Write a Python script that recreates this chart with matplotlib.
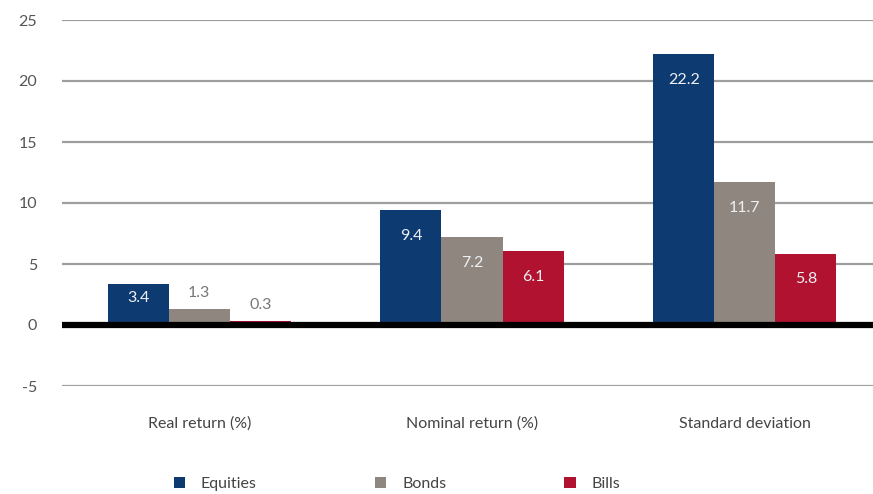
import matplotlib.pyplot as plt
import numpy as np

plt.rcParams['font.family'] = ['Lato', 'DejaVu Sans']
plt.rcParams['axes.unicode_minus'] = False

categories = ["Real return (%)", "Nominal return (%)", "Standard deviation"]
series = ["Equities", "Bonds", "Bills"]
equities = [3.4, 9.4, 22.2]
bonds = [1.3, 7.2, 11.7]
bills = [0.3, 6.1, 5.8]
colors = ["#0d3a70", "#8f877f", "#b0122f"]

fig = plt.figure(figsize=(8.73, 4.94), dpi=100)
ax = fig.add_axes([62 / 873, 108 / 494, 811 / 873, 366 / 494])

x = np.arange(len(categories))
width = 0.224
handles = []
for i, (name, vals) in enumerate(zip(series, [equities, bonds, bills])):
    pos = x + (i - 1) * width
    bars = ax.bar(pos, vals, width, color=colors[i], label=name, zorder=2)
    handles.append(bars)
    for p, v in zip(pos, vals):
        if v < 2:
            # too short for a label inside, put it above in grey
            ax.annotate(f"{v:.1f}", (p, v), xytext=(0, 9), textcoords="offset pixels",
                        ha="center", va="bottom", color="#777777", fontsize=11.5)
        else:
            off = -min(26, v * 12.2 * 0.35)
            ax.annotate(f"{v:.1f}", (p, v), xytext=(0, off), textcoords="offset pixels",
                        ha="center", va="center", color="#eef0f4", fontsize=11.5)

ax.set_xlim(-0.503, 2.47)
ax.set_ylim(-5, 25)
ax.set_yticks(range(-5, 26, 5))
ax.set_xticks(x)
ax.set_xticklabels(categories, fontsize=11.5, color="#444444")
ax.tick_params(axis="both", length=0, colors="#555555", labelsize=11.5)
ax.tick_params(axis="x", pad=22)
ax.tick_params(axis="y", pad=18)
for lab in ax.get_xticklabels():
    lab.set_color("#444444")

ax.grid(axis="y", color="#9e9e9e", linewidth=1.6, zorder=0)
ax.axhline(0, color="black", linewidth=4.5, zorder=3)
for s in ax.spines.values():
    s.set_visible(False)

fig.legend(handles=handles, labels=series, loc="center", bbox_to_anchor=(397 / 873, 1 - 484 / 494),
           ncol=3, frameon=False, fontsize=11.5, handlelength=0.7, handleheight=0.7,
           handletextpad=1.0, columnspacing=7.4, labelcolor="#444444")

fig.savefig("out.png", dpi=100)
